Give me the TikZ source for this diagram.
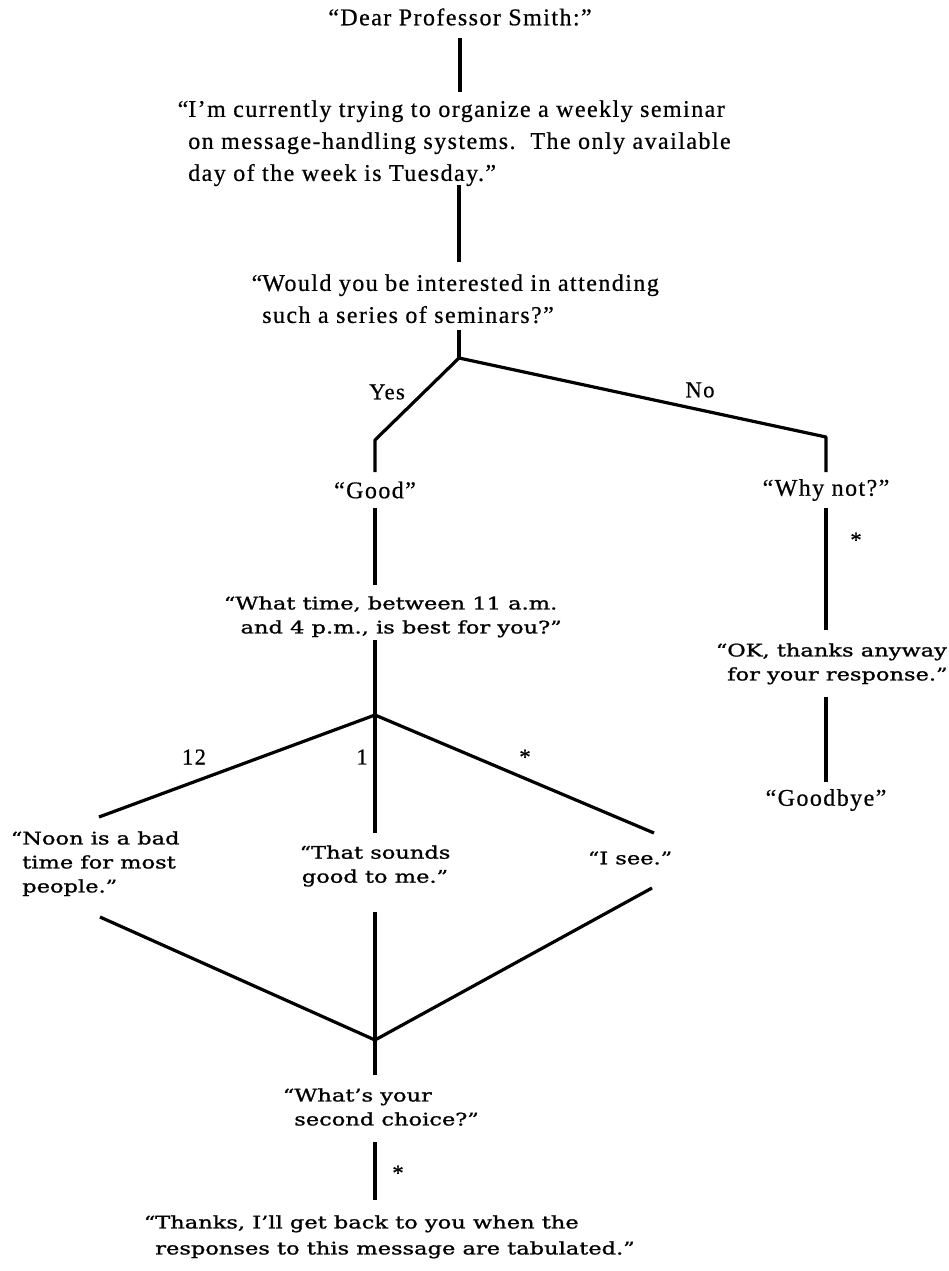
\documentclass[tikz,border=0pt]{standalone}
\usepackage{fontspec}
\setmainfont{Liberation Serif}
\newfontfamily\topf[LetterSpace=6,FakeBold=0.6]{Liberation Serif}
\newfontfamily\lowf[FakeStretch=1.3,FakeBold=1.2]{DejaVu Serif}
\begin{document}
\begin{tikzpicture}[x=0.75pt,y=-0.75pt,
  toptext/.style={font=\topf\fontsize{18}{24}\selectfont, align=left, inner sep=0pt},
  lowtext/.style={font=\lowf\fontsize{13}{18}\selectfont, align=left, inner sep=0pt},
  lbl/.style={font=\topf\fontsize{17}{20}\selectfont, inner sep=0pt},
  conn/.style={line width=2.4pt, line join=round, line cap=butt}]
\fill[white] (0,0) rectangle (949,1271);
\useasboundingbox (0,0) rectangle (949,1271);

% texts
\node[toptext] (dear) at (460,17) {“Dear Professor Smith:”};
\node[toptext, anchor=north west] (para) at (188,100)
  {\llap{“}I’m currently trying to organize a weekly seminar\\
   on message-handling systems.\ \ The only available\\
   day of the week is Tuesday.”};
\node[toptext, anchor=north west] (would) at (262,274)
  {\llap{“}Would you be interested in attending\\
   such a series of seminars?”};
\node[toptext] (good) at (375,490) {“Good”};
\node[toptext] (whynot) at (826,490) {“Why not?”};
\node[lowtext, anchor=north west] (whattime) at (235,596)
  {\llap{“}What time, between 11 a.m.\\
   \hspace{4pt}and 4 p.m., is best for you?”};
\node[lowtext, anchor=north west] (ok) at (727,643)
  {\llap{“}OK, thanks anyway\\
   for your response.”};
\node[toptext] (goodbye) at (826,800) {“Goodbye”};
\node[lowtext, anchor=north west] (noon) at (22,831)
  {\llap{“}Noon is a bad\\
   time for most\\
   people.”};
\node[lowtext, align=center] (sounds) at (375,866)
  {“That sounds\\ good to me.”};
\node[lowtext] (isee) at (630,858) {“I see.”};
\node[lowtext, anchor=north west] (whats) at (294,1088)
  {\llap{“}What’s your\\
   second choice?”};
\node[lowtext, font=\lowf\fontsize{13}{19.5}\selectfont, anchor=north west] (thanks) at (155,1215)
  {\llap{“}Thanks, I’ll get back to you when the\\
   responses to this message are tabulated.”};

% connector points
\coordinate (dear-out) at (460,38);
\coordinate (para-in) at (460,92);
\coordinate (para-out) at (459,185);
\coordinate (would-in) at (459,262);
\coordinate (would-out) at (459,330);
\coordinate (j1) at (459,358);
\coordinate (cy) at (375,440);
\coordinate (good-in) at (375,472);
\coordinate (cn) at (826,437);
\coordinate (whynot-in) at (826,472);
\coordinate (good-out) at (375,508);
\coordinate (whattime-in) at (375,585);
\coordinate (whynot-out) at (826,508);
\coordinate (ok-in) at (826,630);
\coordinate (ok-out) at (826,697);
\coordinate (goodbye-in) at (826,782);
\coordinate (whattime-out) at (375,640);
\coordinate (j2) at (375,715);
\coordinate (noon-in) at (99,817);
\coordinate (sounds-in) at (375,833);
\coordinate (isee-in) at (654,833);
\coordinate (noon-out) at (100,917);
\coordinate (sounds-out) at (375,912);
\coordinate (isee-out) at (652,888);
\coordinate (j3) at (375,1040);
\coordinate (whats-in) at (375,1075);
\coordinate (whats-out) at (375,1142);
\coordinate (thanks-in) at (375,1200);

% connectors
\draw[conn] (dear-out) -- (para-in);
\draw[conn] (para-out) -- (would-in);
\draw[conn] (would-out) -- (j1);
\draw[conn] (j1) -- (cy) -- (good-in);
\draw[conn] (j1) -- (cn) -- (whynot-in);
\draw[conn] (good-out) -- (whattime-in);
\draw[conn] (whynot-out) -- (ok-in);
\draw[conn] (ok-out) -- (goodbye-in);
\draw[conn] (whattime-out) -- (j2);
\draw[conn] (j2) -- (noon-in);
\draw[conn] (j2) -- (sounds-in);
\draw[conn] (j2) -- (isee-in);
\draw[conn] (noon-out) -- (j3);
\draw[conn] (sounds-out) -- (j3);
\draw[conn] (isee-out) -- (j3);
\draw[conn] (j3) -- (whats-in);
\draw[conn] (whats-out) -- (thanks-in);

% labels
\node[lbl] (lyes) at (387,392) {Yes};
\node[lbl] (lno) at (700,390) {No};
\node[lbl] (l12) at (194,757) {12};
\node[lbl] (l1) at (362,757) {1};
\node[lbl] (lstar1) at (525,757) {*};
\node[lbl] (lstar2) at (856,540) {*};
\node[lbl] (lstar3) at (398,1173) {*};
\end{tikzpicture}
\end{document}
